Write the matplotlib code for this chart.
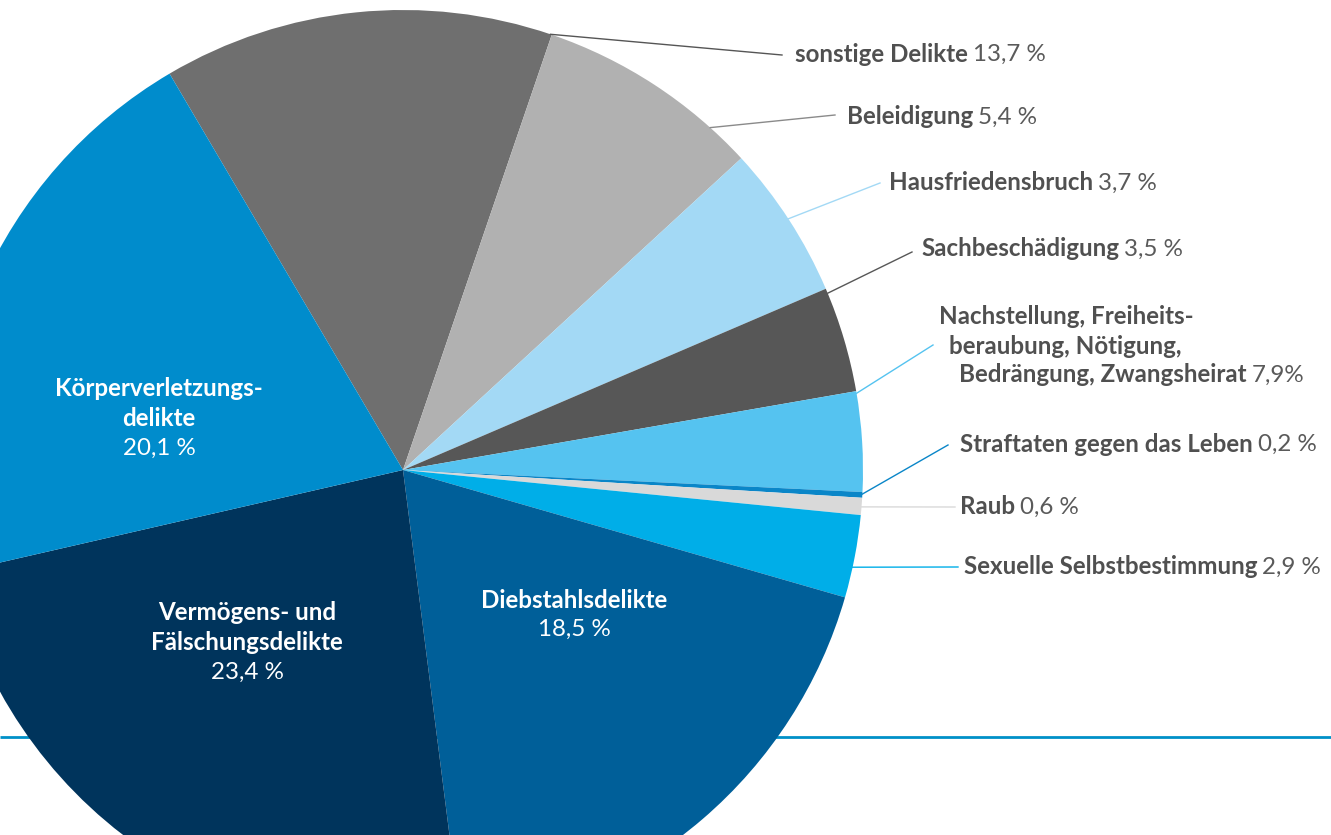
import matplotlib
matplotlib.use("Agg")
import matplotlib.pyplot as plt
import numpy as np

# ---- data (slice order as drawn, clockwise) ----
categories = ["sonstige Delikte",
              "Nachstellung, Freiheitsberaubung, Nötigung, Bedrängung, Zwangsheirat",
              "Beleidigung", "Hausfriedensbruch", "Sachbeschädigung",
              "Straftaten gegen das Leben", "Raub", "Sexuelle Selbstbestimmung",
              "Diebstahlsdelikte", "Vermögens- und Fälschungsdelikte",
              "Körperverletzungsdelikte"]
values = [13.7, 7.9, 5.4, 3.7, 3.5, 0.2, 0.6, 2.9, 18.5, 23.4, 20.1]
colors = ["#6f6f6f", "#b1b1b1", "#a3d9f5", "#575757", "#55c3f0", "#0a86c8",
          "#d9d9d9", "#00aee8", "#005f99", "#00345c", "#008ccc"]

W, H = 1331, 835
FONT = "Lato"
TXT = "#505050"
FS = 17.4


def fmt(v, space=True):
    return f"{v:.1f}".replace(".", ",") + (" %" if space else "%")


def Y(py):
    return H - py


fig = plt.figure(figsize=(W / 100, H / 100), dpi=100)
ax = fig.add_axes([0, 0, 1, 1])
cx, cy, R = 403, 470, 460

# horizontal rule behind the pie
ax.plot([0, W], [Y(737), Y(737)], color="#0090c8", lw=2, zorder=0,
        solid_capstyle="butt")

ax.pie(values, colors=colors, startangle=120.5, counterclock=False,
       center=(cx, Y(cy)), radius=R,
       wedgeprops=dict(linewidth=0), normalize=True, frame=True)
for w in ax.patches:
    w.set_zorder(1)
ax.set_xlim(0, W)
ax.set_ylim(0, H)
ax.set_aspect("auto")
ax.axis("off")

renderer = fig.canvas.get_renderer()

# ---- outer labels: (index, lines, x, y of first line, anchor angle, line end, line color)
outer = [
    (0, ["sonstige Delikte"], 795, 54, 71.3, (782, 55), "#555555"),
    (2, ["Beleidigung"], 847, 117, 48.1, (835, 115), "#8a8a8a"),
    (3, ["Hausfriedensbruch"], 889, 183, 33.1, (880, 183), "#a3d9f5"),
    (4, ["Sachbeschädigung"], 921, 249, 22.6, (912, 252), "#575757"),
    (1, ["Nachstellung, Freiheits-", "beraubung, Nötigung,",
         "Bedrängung, Zwangsheirat"], 939, 317, 9.6, (933, 345), "#55c3f0"),
    (5, ["Straftaten gegen das Leben"], 960, 444, -3.0, (948, 445), "#0a86c8"),
    (6, ["Raub"], 960, 507, -4.6, (955, 507), "#d9d9d9"),
    (7, ["Sexuelle Selbstbestimmung"], 964, 567, -12.2, (958, 567), "#00aee8"),
]
indent = [0, 10, 20]
for idx, lines, x, y, ang, lend, lc in outer:
    last = None
    for k, ln in enumerate(lines):
        xx = x + (indent[k] if len(lines) > 1 else 0)
        last = ax.text(xx, Y(y + k * 29), ln, fontsize=FS, fontweight="bold",
                       family=FONT, color=TXT, ha="left", va="center")
    bb = last.get_window_extent(renderer)
    pos = last.get_position()
    ax.text(bb.x1 + 5, pos[1], fmt(values[idx], space=(idx != 1)), fontsize=FS,
            family=FONT, color="#5a5a5a", ha="left", va="center")
    a = np.deg2rad(ang)
    px, py = cx + R * np.cos(a), cy - R * np.sin(a)
    ax.plot([px, lend[0]], [Y(py), Y(lend[1])], color=lc, lw=1, zorder=2)

# ---- inner labels
inner = [
    (10, ["Körperverletzungs-", "delikte"], 159, 389),
    (9, ["Vermögens- und", "Fälschungsdelikte"], 247, 613),
    (8, ["Diebstahlsdelikte"], 574, 600),
]
for idx, lines, x, y in inner:
    for k, ln in enumerate(lines):
        ax.text(x, Y(y + k * 29.5), ln, fontsize=FS, fontweight="bold",
                family=FONT, color="white", ha="center", va="center")
    ax.text(x, Y(y + len(lines) * 29.5), fmt(values[idx]), fontsize=FS,
            family=FONT, color="white", ha="center", va="center")

fig.savefig("out.png", dpi=100)
